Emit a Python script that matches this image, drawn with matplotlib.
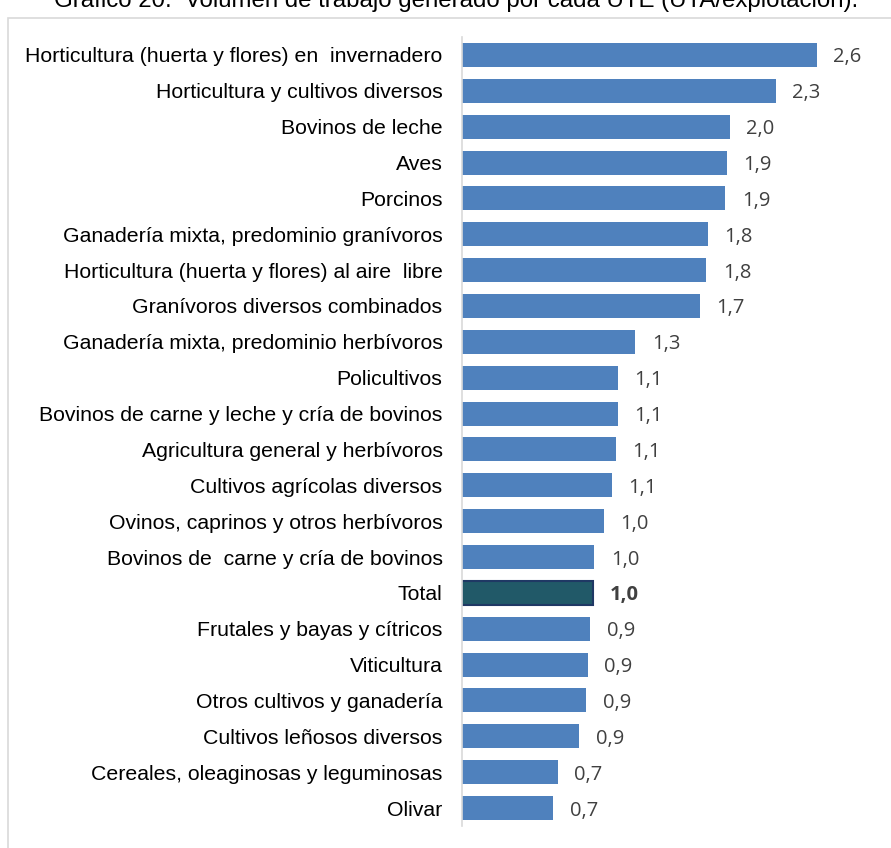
import matplotlib.pyplot as plt
from matplotlib.patches import Rectangle

# Datos (UTA por explotación)
categorias = [
    'Horticultura (huerta y flores) en  invernadero',
    'Horticultura y cultivos diversos',
    'Bovinos de leche',
    'Aves',
    'Porcinos',
    'Ganadería mixta, predominio granívoros',
    'Horticultura (huerta y flores) al aire  libre',
    'Granívoros diversos combinados',
    'Ganadería mixta, predominio herbívoros',
    'Policultivos',
    'Bovinos de carne y leche y cría de bovinos',
    'Agricultura general y herbívoros',
    'Cultivos agrícolas diversos',
    'Ovinos, caprinos y otros herbívoros',
    'Bovinos de  carne y cría de bovinos',
    'Total',
    'Frutales y bayas y cítricos',
    'Viticultura',
    'Otros cultivos y ganadería',
    'Cultivos leñosos diversos',
    'Cereales, oleaginosas y leguminosas',
    'Olivar',
]
valores = [2.60, 2.30, 1.96, 1.94, 1.93, 1.80, 1.79, 1.74, 1.27, 1.14, 1.14,
           1.13, 1.10, 1.04, 0.97, 0.96, 0.94, 0.92, 0.91, 0.86, 0.70, 0.67]

fig = plt.figure(figsize=(8.91, 8.48), dpi=100)

# Marco exterior del gráfico
fig.patches.append(Rectangle((8 / 891, -0.01), 1.0, 1 - 18 / 848 + 0.01,
                             transform=fig.transFigure, fill=False,
                             edgecolor='#d9d9d9', linewidth=1.2))

# Título (cortado en la parte superior, como en el original)
fig.text(0.512, 1 - 7 / 848,
         'Gráfico 20.  Volumen de trabajo generado por cada UTE (UTA/explotación).',
         ha='center', va='baseline', fontsize=17.3, family='Liberation Sans')

ax = fig.add_axes([462 / 891, 1 - 826 / 848, 409.5 / 891, (826 - 37) / 848])

ys = list(range(len(categorias)))
colores = ['#215968' if c == 'Total' else '#4f81bd' for c in categorias]
bordes = ['#1f3864' if c == 'Total' else '#4f81bd' for c in categorias]
ax.barh(ys, valores, height=0.67, color=colores, edgecolor=bordes,
        linewidth=[1.5 if c == 'Total' else 0 for c in categorias])

for y, v, c in zip(ys, valores, categorias):
    ax.text(v + 0.12, y + 0.07, f'{v:.1f}'.replace('.', ','), ha='left',
            va='center', fontsize=14.5, color='#404040', family='Open Sans',
            fontweight='bold' if c == 'Total' else 'normal')

ax.set_yticks(ys)
ax.set_yticklabels(categorias, fontsize=15.3, family='Liberation Sans')
ax.tick_params(axis='y', length=0, pad=14)
ax.set_ylim(len(categorias) - 0.5, -0.5)
ax.set_xlim(0, 3.0)
ax.set_xticks([])
for s in ['top', 'right', 'bottom']:
    ax.spines[s].set_visible(False)
ax.spines['left'].set_color('#d9d9d9')
ax.spines['left'].set_linewidth(1.2)

plt.savefig('out.png', dpi=100)
